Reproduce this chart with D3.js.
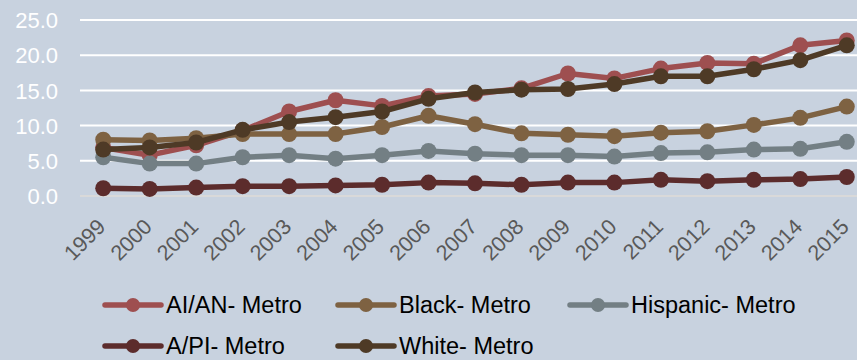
<!DOCTYPE html>
<html><head><meta charset="utf-8">
<script src="https://cdn.jsdelivr.net/npm/d3@7"></script>
<style>
html,body{margin:0;padding:0;background:#C8D2DF;}
svg{display:block;font-family:"Liberation Sans",Arial,sans-serif;}
</style></head>
<body>
<svg id="chart" width="857" height="360"></svg>
<script>
const years = ["1999","2000","2001","2002","2003","2004","2005","2006","2007","2008","2009","2010","2011","2012","2013","2014","2015"];
const yTicks = [0, 5, 10, 15, 20, 25];
const seriesNames = ["AI/AN- Metro","Black- Metro","Hispanic- Metro","A/PI- Metro","White- Metro"];
const seriesColors = ["#9E4F50","#7E6242","#737F84","#5C2C2C","#4E3A26"];
const aian     = [6.9, 5.8, 7.2, 9.3, 12.0, 13.6, 12.8, 14.2, 14.5, 15.3, 17.4, 16.7, 18.1, 18.9, 18.8, 21.4, 22.1];
const black    = [8.0, 7.9, 8.2, 8.8, 8.8, 8.8, 9.8, 11.4, 10.2, 8.9, 8.7, 8.5, 9.0, 9.2, 10.1, 11.1, 12.7];
const hispanic = [5.5, 4.6, 4.6, 5.5, 5.8, 5.3, 5.8, 6.4, 6.0, 5.8, 5.8, 5.6, 6.1, 6.2, 6.6, 6.7, 7.7];
const apis     = [1.1, 1.0, 1.2, 1.4, 1.4, 1.5, 1.6, 1.9, 1.8, 1.6, 1.9, 1.9, 2.3, 2.1, 2.3, 2.4, 2.7];
const white    = [6.6, 6.9, 7.6, 9.4, 10.5, 11.2, 12.0, 13.8, 14.7, 15.1, 15.2, 15.9, 17.0, 17.0, 18.0, 19.3, 21.4];
const seriesValues = [aian, black, hispanic, apis, white];

const svg = d3.select("#chart");
const x = d3.scalePoint().domain(years).range([80, 870]).padding(0.5);
const y = d3.scaleLinear().domain([0, 25]).range([196, 20]);

// gridlines
svg.append("g").selectAll("line").data(yTicks.filter(d => d > 0)).join("line")
  .attr("x1", 80).attr("x2", 857)
  .attr("y1", d => y(d)).attr("y2", d => y(d))
  .attr("stroke", "#FFFFFF").attr("stroke-width", 2);
svg.append("line").attr("x1", 80).attr("x2", 857).attr("y1", y(0)).attr("y2", y(0))
  .attr("stroke", "#D9D9D9").attr("stroke-width", 2);

// y axis labels
const yAxis = d3.axisLeft(y).tickValues(yTicks).tickFormat(d3.format(".1f")).tickSize(0).tickPadding(0);
const gy = svg.append("g").attr("transform", "translate(58,0)").call(yAxis);
gy.select(".domain").remove();
gy.selectAll("text").attr("fill", "#FFFFFF").attr("font-size", 22).attr("dy", "0.35em")
  .style("font-family", "Liberation Sans, Arial, sans-serif");

// x axis labels
const xAxis = d3.axisBottom(x).tickSize(0).tickPadding(0);
const gx = svg.append("g").attr("transform", "translate(0,0)").call(xAxis);
gx.select(".domain").remove();
gx.selectAll("text")
  .attr("fill", "#595959").attr("font-size", 21.5)
  .style("font-family", "Liberation Sans, Arial, sans-serif")
  .attr("text-anchor", "end").attr("x", 0).attr("y", 0).attr("dy", 0)
  .attr("transform", "translate(3,228) rotate(-45)");

// lines
const line = d3.line().x((d, i) => x(years[i])).y(d => y(d));
seriesValues.forEach((vals, si) => {
  const g = svg.append("g");
  g.append("path").datum(vals).attr("d", line)
    .attr("fill", "none").attr("stroke", seriesColors[si]).attr("stroke-width", 5.5)
    .attr("stroke-linejoin", "round");
  g.selectAll("circle").data(vals).join("circle")
    .attr("cx", (d, i) => x(years[i])).attr("cy", d => y(d)).attr("r", 8)
    .attr("fill", seriesColors[si]);
});

// legend
const legendPos = [[105, 305], [338, 305], [570, 305], [105, 346], [338, 346]];
seriesNames.forEach((name, i) => {
  const [lx, ly] = legendPos[i];
  const g = svg.append("g").attr("transform", `translate(${lx},${ly})`);
  g.append("line").attr("x1", 0).attr("x2", 56).attr("y1", 0).attr("y2", 0)
    .attr("stroke", seriesColors[i]).attr("stroke-width", 5.5).attr("stroke-linecap", "round");
  g.append("circle").attr("cx", 28).attr("cy", 0).attr("r", 7).attr("fill", seriesColors[i]);
  g.append("text").attr("x", 61).attr("y", 0).attr("dy", "0.35em")
    .attr("font-size", 23.5).attr("fill", "#000000").text(name);
});
</script>
</body></html>
